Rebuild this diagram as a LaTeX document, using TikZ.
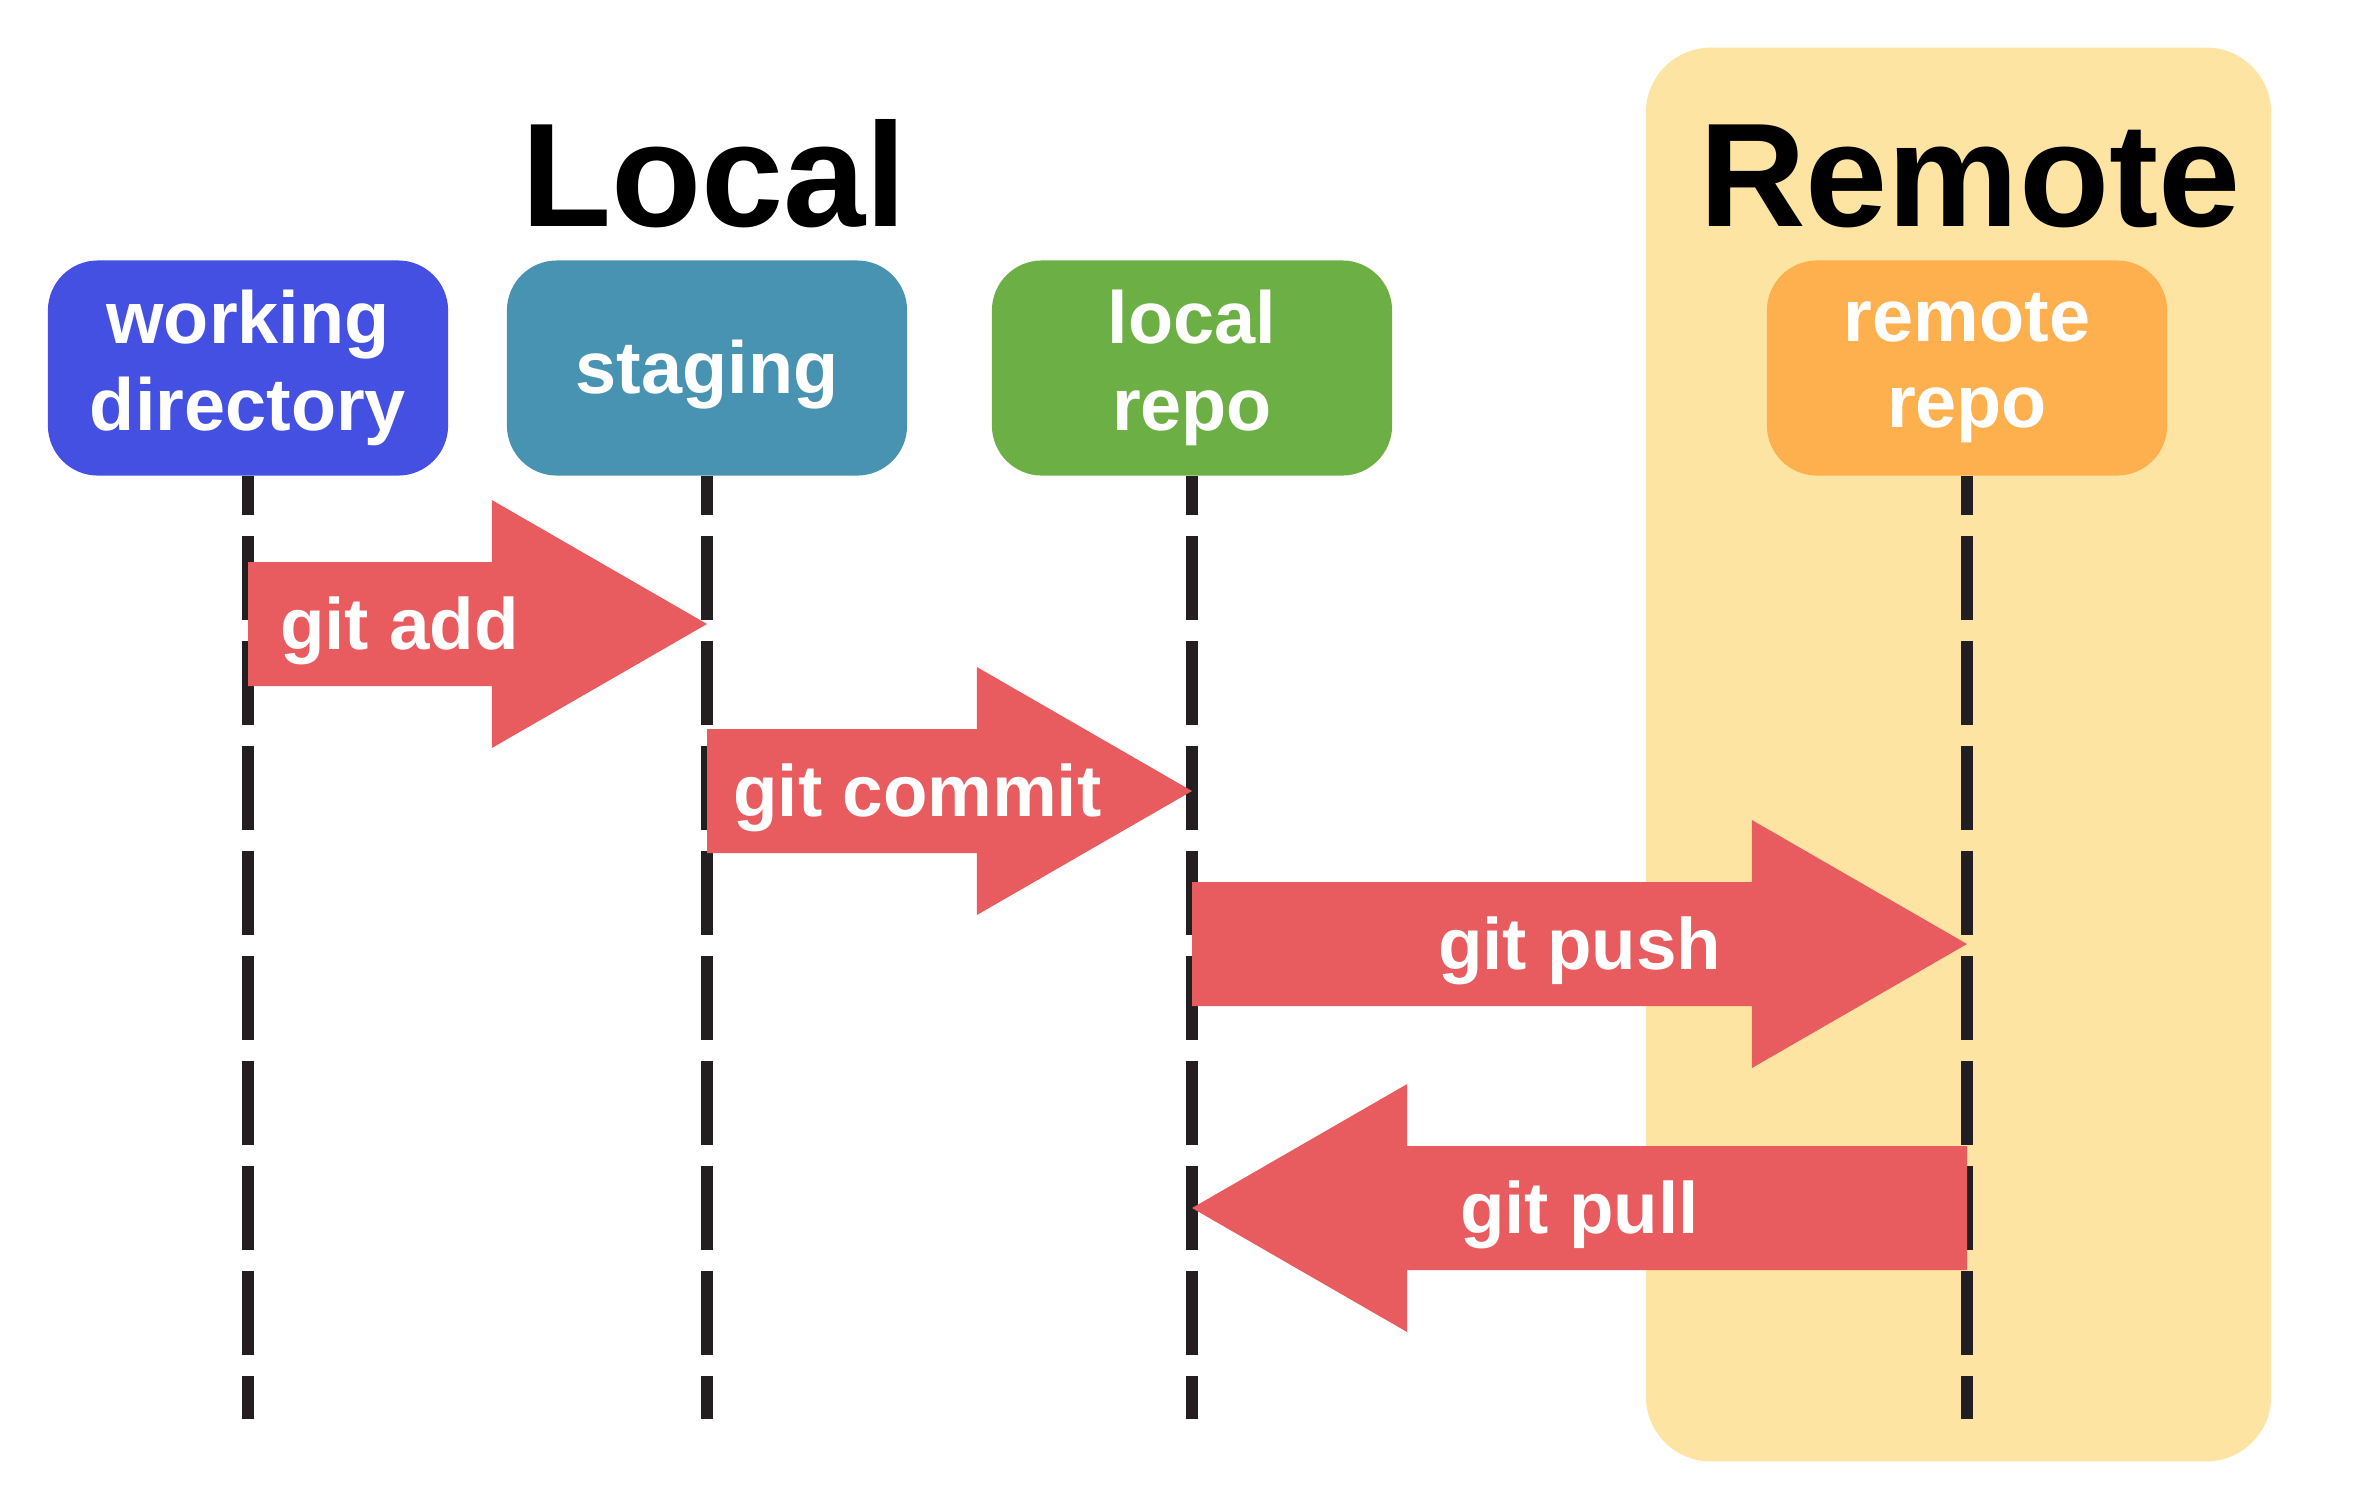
\documentclass[tikz,border=0pt]{standalone}
\usepackage{fontspec}
\setmainfont{Liberation Sans}
\usepackage{tikz}
\usetikzlibrary{calc}
\definecolor{wdblue}{HTML}{4450E2}
\definecolor{stgteal}{HTML}{4893B1}
\definecolor{lrgreen}{HTML}{6CB045}
\definecolor{rrorange}{HTML}{FDB04D}
\definecolor{remotebg}{HTML}{FDE4A2}
\definecolor{cmdred}{HTML}{E85B5E}
\definecolor{lifedark}{HTML}{231F20}
\tikzstyle{repobox}=[rectangle,rounded corners=0.5cm,minimum width=4cm,minimum height=2.15cm,inner sep=0pt,align=center,text=white,font=\fontsize{21}{24.7}\selectfont\bfseries,execute at begin node={\rule{0pt}{18.8pt}}]
\tikzstyle{remotearea}=[rectangle,rounded corners=0.65cm,fill=remotebg,minimum width=6.25cm,minimum height=14.13cm,inner sep=0pt]
\tikzstyle{areatitle}=[anchor=base,inner sep=0pt,font=\fontsize{42}{48}\selectfont\bfseries]
\tikzstyle{lifeline}=[draw=lifedark,line width=0.12cm,dash pattern=on 0.84cm off 0.21cm,dash phase=0.45cm]
\tikzstyle{cmdlabel}=[text=white,inner sep=0pt,yshift=-0.07cm,font=\fontsize{20.7}{24}\selectfont\bfseries]

\begin{document}
\begin{tikzpicture}[x=0.01cm,y=-0.01cm]
    \useasboundingbox (0,0) rectangle (2358,1493);

    % remote area and titles
    \node[remotearea] (remote) at (1958.5,754.5) {};
    \node[areatitle] (localtitle) at (714,226) {Local};
    \node[areatitle] (remotetitle) at (1970,226) {Remote};

    % lifelines first, boxes on top
    \foreach \x/ \name in {248/wd, 707/stg, 1192/lrepo, 1967/rrepo}
        \draw[lifeline] (\x,475.5) -- (\x,1419);

    \foreach \pos/ \name/ \col/ \txt in {{(248,368)/wd/wdblue/working\\directory}, {(707,368)/stg/stgteal/staging},
            {(1192,368)/lrepo/lrgreen/local\\repo}, {(1967,368)/rrepo/rrorange/remote\\repo}}
        \node[repobox,fill=\col] (\name) at \pos {\txt};

    % commands between the lifelines
    \foreach \src/ \dst/ \y/ \frac/ \txt in {wd/stg/624/0.33/git add, stg/lrepo/791/0.434/git commit,
            lrepo/rrepo/944/0.5/git push, rrepo/lrepo/1208/0.5/git pull} {
        \coordinate (tail) at (\src.center |- 0,\y);
        \coordinate (tip) at (\dst.center |- 0,\y);
        \coordinate (neck) at ($(tip)!2.15cm!(tail)$);
        \fill[cmdred] ($(tail)+(0,-62)$) -- ($(neck)+(0,-62)$) -- ($(neck)+(0,-124)$) -- (tip)
            -- ($(neck)+(0,124)$) -- ($(neck)+(0,62)$) -- ($(tail)+(0,62)$) -- cycle;
        \node[cmdlabel] at ($(tail)!\frac!(tip)$) {\txt};
    }
\end{tikzpicture}
\end{document}
